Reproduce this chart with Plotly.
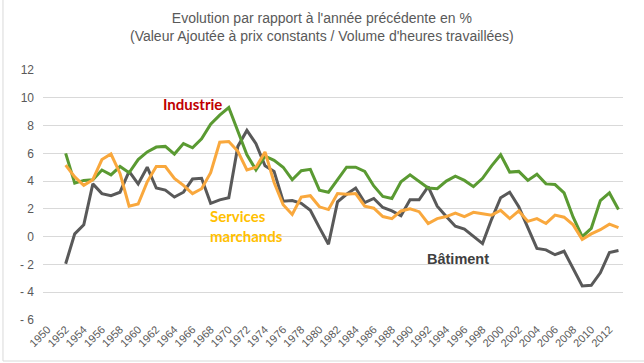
import plotly.graph_objects as go

years = list(range(1952, 2014))

industrie = [6.0, 3.85, 4.05, 4.1, 4.8, 4.45, 5.05, 4.6, 5.55, 6.1,
             6.45, 6.5, 5.95, 6.7, 6.4, 7.05, 8.1, 8.75, 9.3, 7.6,
             5.9, 4.8, 5.8, 5.5, 5.0, 4.1, 4.75, 4.85, 3.35, 3.2,
             4.1, 5.0, 5.0, 4.7, 3.65, 2.9, 2.75, 3.95, 4.45, 3.95,
             3.5, 3.45, 4.0, 4.35, 4.05, 3.6, 4.2, 5.1, 5.9, 4.65,
             4.7, 4.05, 4.5, 3.8, 3.75, 3.15, 1.4, 0.0, 0.6, 2.6,
             3.15, 1.95]

services = [5.15, 4.3, 3.7, 4.1, 5.55, 5.95, 4.55, 2.2, 2.35, 3.95,
            5.05, 5.05, 4.2, 3.7, 3.1, 3.45, 4.6, 6.8, 6.85, 6.15,
            4.8, 5.0, 6.1, 3.9, 2.3, 1.6, 2.85, 2.95, 2.15, 1.95,
            3.1, 3.05, 3.1, 2.2, 2.05, 1.45, 1.3, 1.85, 2.0, 1.8,
            0.95, 1.3, 1.45, 1.7, 1.45, 1.75, 1.65, 1.55, 1.9, 1.3,
            1.85, 1.1, 1.3, 0.95, 1.55, 1.4, 0.85, -0.2, 0.2, 0.5,
            0.9, 0.65]

batiment = [-1.95, 0.2, 0.85, 3.8, 3.1, 2.95, 3.2, 4.7, 3.8, 5.0,
            3.5, 3.35, 2.85, 3.2, 4.15, 4.2, 2.4, 2.65, 2.8, 6.5,
            7.65, 6.7, 5.1, 4.7, 2.55, 2.6, 2.4, 1.9, 0.65, -0.55,
            2.5, 3.05, 3.5, 2.45, 2.75, 2.1, 1.85, 1.5, 2.65, 2.65,
            3.6, 2.2, 1.45, 0.75, 0.55, 0.0, -0.5, 1.25, 2.8, 3.2,
            2.15, 0.65, -0.85, -0.95, -1.3, -1.05, -2.3, -3.55, -3.5, -2.6,
            -1.15, -1.0]

x_tick_years = list(range(1950, 2013, 2))
x_tick_labels = [str(y) for y in x_tick_years]
y_tick_vals = [12, 10, 8, 6, 4, 2, 0, -2, -4, -6]
y_tick_labels = ["12", "10", "8", "6", "4", "2", "0", "- 2", "- 4", "- 6"]

title_lines = ["Evolution par rapport à l'année précédente en %",
               "(Valeur Ajoutée à prix constants / Volume d'heures travaillées)"]

C_IND = "#5A9A32"
C_SRV = "#F9A83D"
C_BAT = "#595959"

fig = go.Figure()
fig.add_trace(go.Scatter(x=years, y=batiment, mode="lines", name="Bâtiment",
                         line=dict(color=C_BAT, width=3)))
fig.add_trace(go.Scatter(x=years, y=industrie, mode="lines", name="Industrie",
                         line=dict(color=C_IND, width=3)))
fig.add_trace(go.Scatter(x=years, y=services, mode="lines", name="Services marchands",
                         line=dict(color=C_SRV, width=3)))

annotations = [
    dict(text="<br>".join(title_lines), xref="paper", yref="paper",
         x=0.481, y=1.172, xanchor="center", yanchor="middle", showarrow=False,
         font=dict(family="Liberation Sans", size=14, color="#595959")),
    dict(text="<b>Industrie</b>", x=1966.05, y=9.55, showarrow=False,
         xanchor="center", yanchor="middle",
         font=dict(family="Lato", size=15, color="#C00000")),
    dict(text="<b>Services<br>marchands</b>", x=1967.7, y=0.78, showarrow=False,
         xanchor="left", yanchor="middle", align="left",
         font=dict(family="Lato", size=15, color="#FFC000")),
    dict(text="<b>Bâtiment</b>", x=1995.3, y=-1.63, showarrow=False,
         xanchor="center", yanchor="middle",
         font=dict(family="Liberation Sans", size=14.5, color="#404040")),
]

shapes = [
    dict(type="line", xref="paper", yref="paper", x0=-0.069, x1=-0.069, y0=-0.164, y1=1.3,
         line=dict(color="#d9d9d9", width=1)),
    dict(type="line", xref="paper", yref="paper", x0=-0.069, x1=1.05, y0=-0.164, y1=-0.164,
         line=dict(color="#d9d9d9", width=1)),
]

fig.update_layout(
    width=644, height=363, autosize=False,
    margin=dict(l=43, r=21, t=70, b=43),
    paper_bgcolor="white", plot_bgcolor="white",
    showlegend=False,
    annotations=annotations,
    shapes=shapes,
    xaxis=dict(range=[1949.5, 2013.5], tickvals=x_tick_years, ticktext=x_tick_labels,
               tickangle=-45, showgrid=False, zeroline=False, showline=False, ticks="",
               tickfont=dict(family="Liberation Sans", size=11, color="#595959")),
    yaxis=dict(range=[-6, 12], tickvals=y_tick_vals, ticktext=y_tick_labels,
               showgrid=True, gridcolor="#d9d9d9", gridwidth=1, zeroline=False,
               showline=False, ticks="", ticklabelstandoff=8,
               tickfont=dict(family="Liberation Sans", size=12, color="#595959")),
)

fig.write_html("out.html", config={"displayModeBar": False},
               post_script="document.body.style.margin='0';document.body.style.overflow='hidden';")
